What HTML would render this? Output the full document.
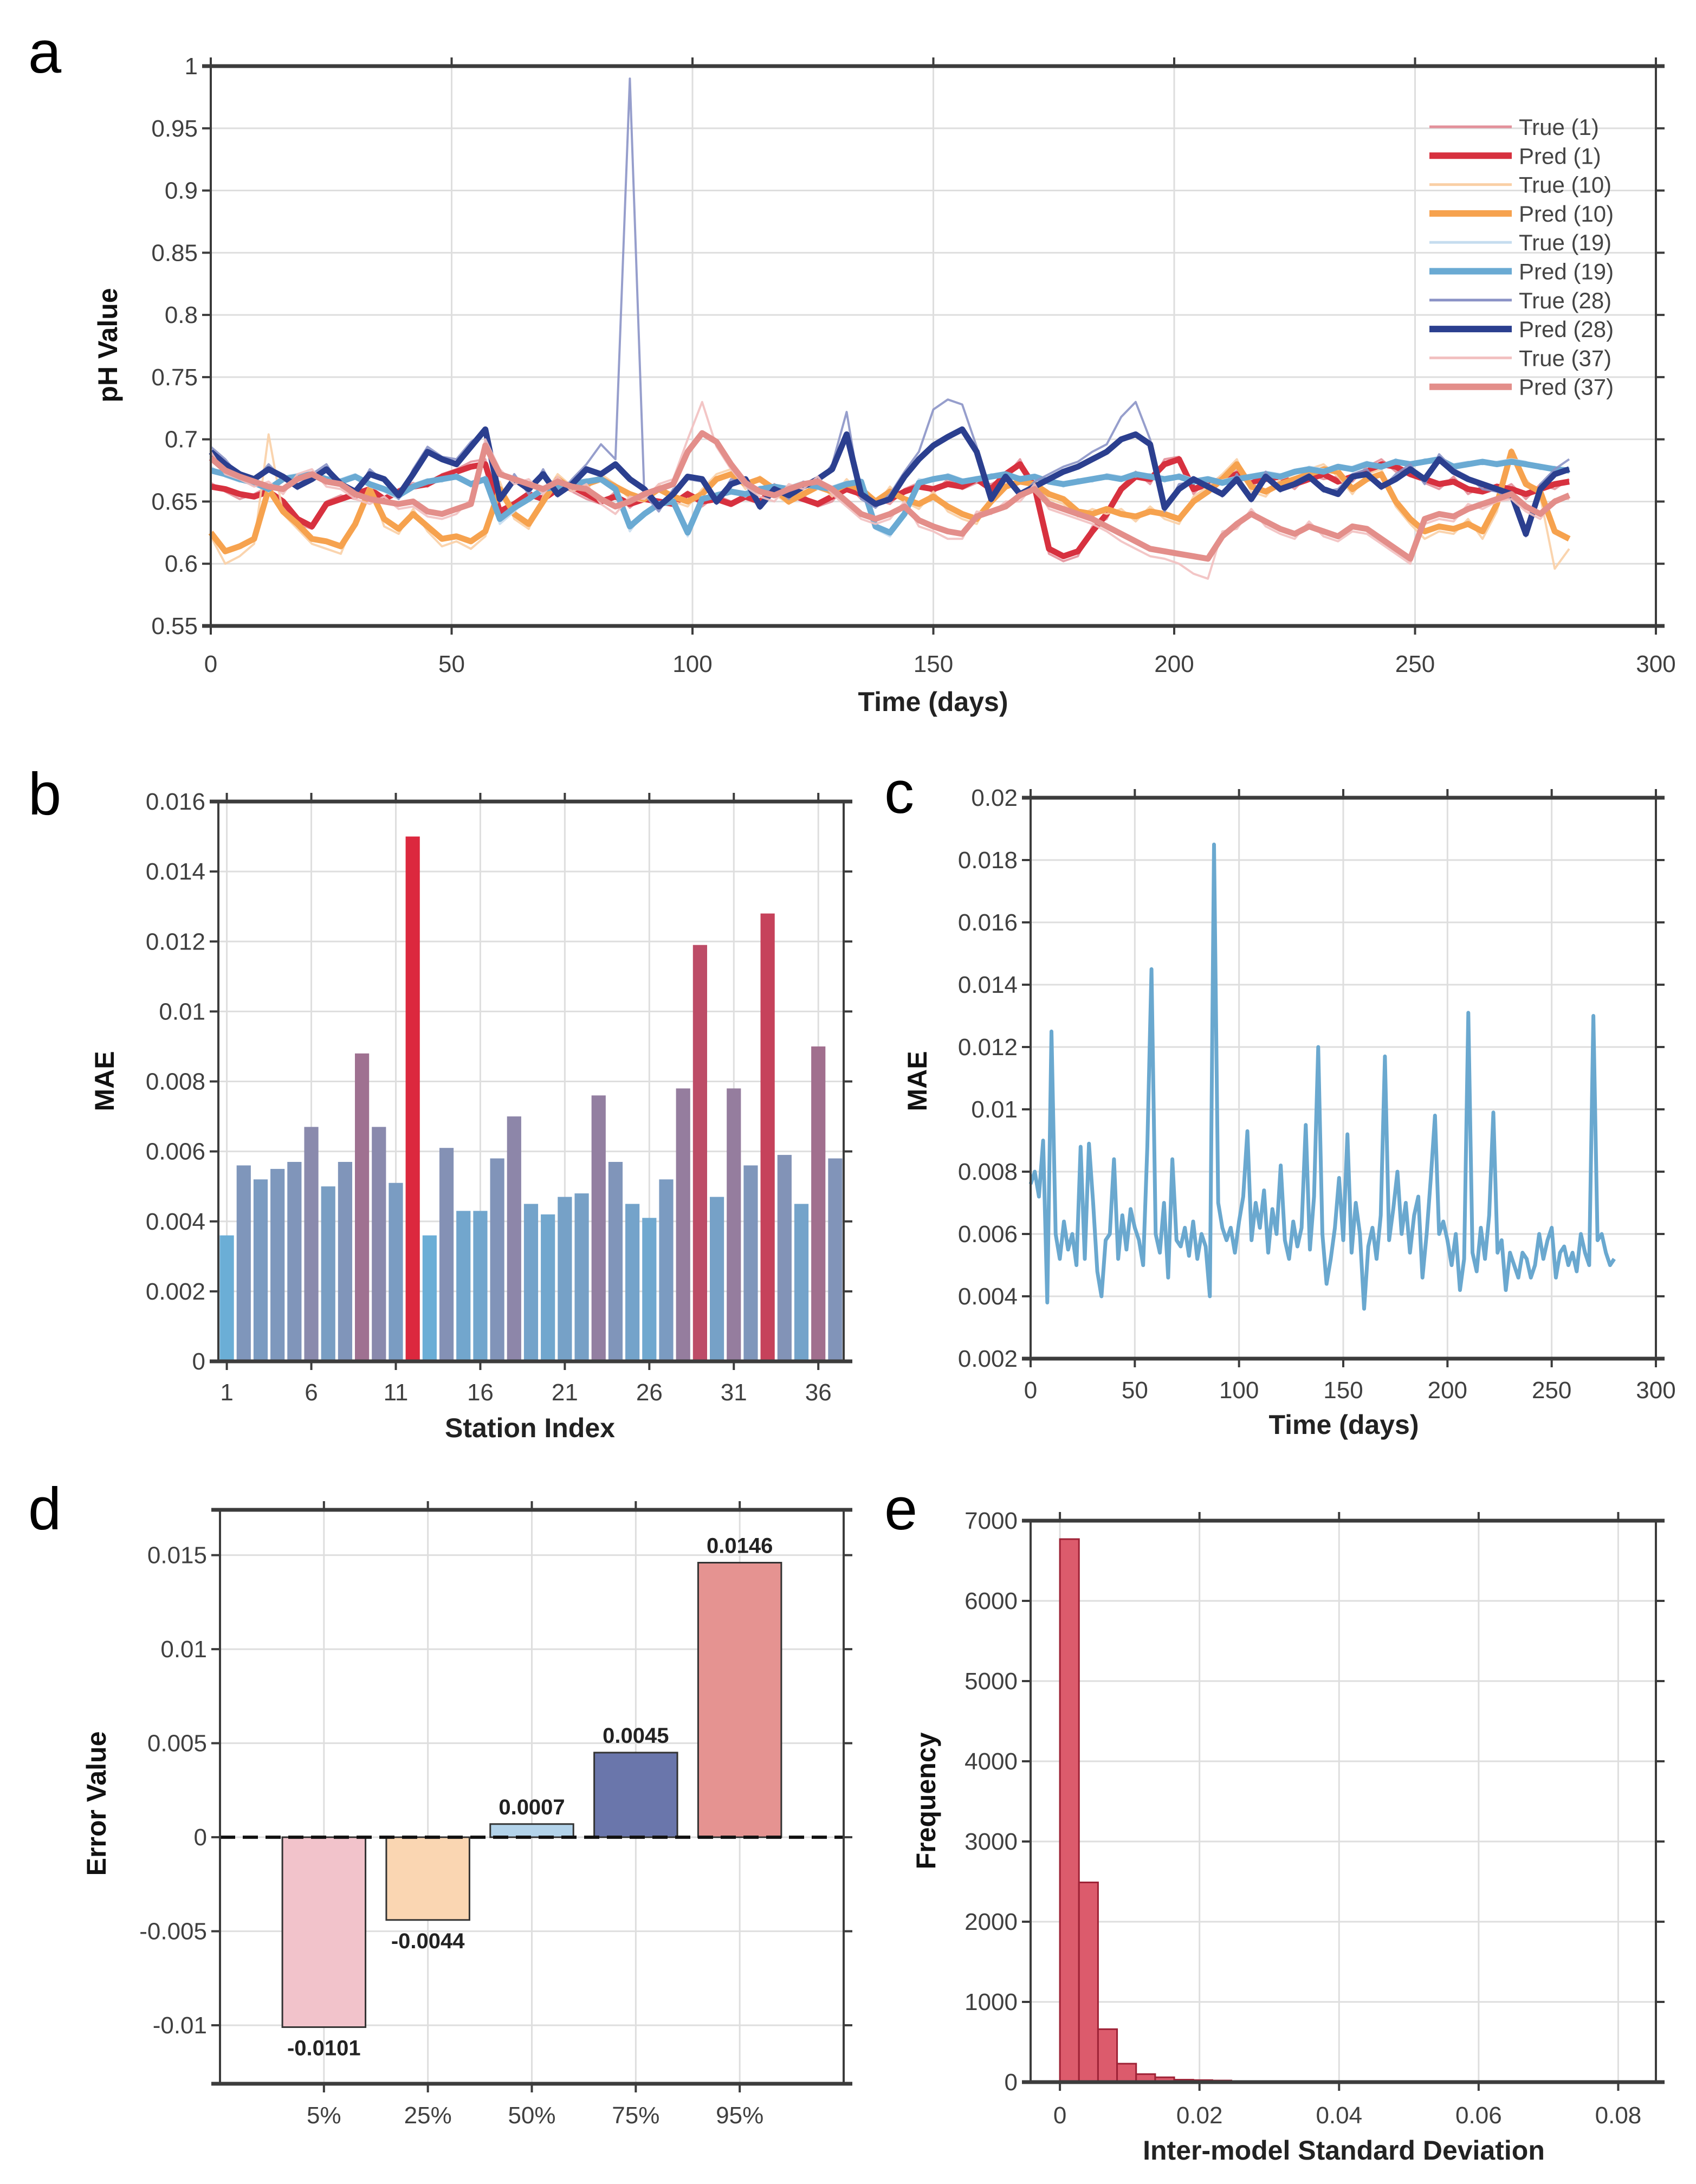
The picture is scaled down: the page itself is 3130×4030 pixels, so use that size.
<!DOCTYPE html>
<html><head><meta charset="utf-8">
<style>
html,body{margin:0;padding:0;background:#fff;}
svg{display:block;}
text{font-family:"Liberation Sans",Arial,sans-serif;}
</style></head>
<body>
<svg id="fig" xmlns="http://www.w3.org/2000/svg" width="3130" height="4030" viewBox="0 0 3130 4030"></svg>
<script>
// ---------- Panel a data (days 0..282 step 3) ----------
const aDays = Array.from({length:95},(_,i)=>i*3);
const true1 = [.665,.658,.652,.656,.662,.646,.632,.628,.650,.655, .652,.662,.650,.660,.665,.662,.672,.676,.682,.684, .640,.650,.652,.655,.664,.658,.652,.648,.658,.645, .655,.648,.650,.658,.646,.655,.650,.652,.648,.664, .654,.655,.646,.650,.664,.652,.652,.648,.660,.665, .657,.668,.660,.665,.664,.670,.684,.660,.608,.602, .606,.630,.636,.662,.674,.664,.684,.686,.656,.668, .664,.675,.662,.670,.668,.660,.672,.668,.670,.666, .678,.684,.674,.676,.665,.660,.670,.656,.662,.658, .664,.652,.664,.660,.668];
const pred1 = [.662,.660,.656,.654,.658,.650,.636,.630,.648,.652, .656,.660,.652,.658,.662,.664,.670,.674,.678,.680, .642,.648,.656,.652,.660,.662,.656,.650,.654,.648, .652,.650,.648,.656,.650,.652,.648,.654,.650,.660, .656,.652,.648,.654,.660,.656,.650,.652,.658,.662, .660,.664,.662,.668,.660,.672,.680,.662,.612,.606, .610,.626,.640,.660,.670,.668,.680,.684,.660,.664, .668,.672,.666,.668,.670,.664,.668,.672,.666,.670, .674,.680,.678,.672,.668,.664,.666,.660,.658,.662, .660,.656,.660,.664,.666];
const true10 = [.622,.600,.606,.616,.704,.640,.628,.616,.612,.608, .636,.664,.630,.624,.644,.626,.614,.618,.612,.622, .666,.636,.628,.654,.672,.662,.660,.672,.664,.652, .650,.664,.650,.646,.660,.672,.676,.660,.670,.656, .648,.660,.666,.654,.668,.656,.646,.662,.650,.644, .658,.642,.636,.632,.654,.666,.670,.660,.652,.648, .638,.644,.640,.644,.634,.646,.636,.632,.654,.662, .672,.684,.658,.654,.668,.672,.676,.680,.670,.656, .672,.676,.646,.632,.620,.626,.624,.636,.620,.642, .692,.668,.654,.596,.612];
const pred10 = [.625,.610,.614,.620,.660,.642,.632,.620,.618,.614, .632,.660,.636,.628,.640,.630,.620,.622,.618,.626, .660,.640,.632,.650,.668,.660,.664,.668,.662,.656, .652,.660,.654,.650,.656,.668,.672,.664,.668,.660, .650,.656,.662,.658,.664,.660,.650,.658,.652,.648, .654,.646,.640,.636,.650,.662,.666,.664,.656,.652, .642,.640,.644,.640,.638,.642,.640,.636,.650,.658, .668,.680,.662,.658,.664,.668,.672,.676,.674,.660, .668,.672,.650,.636,.626,.630,.628,.632,.626,.648, .690,.664,.658,.626,.620];
const true19 = [.678,.670,.666,.668,.658,.670,.672,.670,.666,.668, .672,.662,.658,.652,.664,.668,.666,.672,.662,.670, .632,.642,.654,.662,.660,.666,.668,.666,.658,.626, .642,.646,.652,.622,.654,.653,.660,.654,.662,.660, .662,.666,.660,.662,.666,.664,.628,.622,.642,.668, .666,.672,.668,.666,.672,.670,.670,.668,.668,.662, .668,.666,.672,.670,.670,.672,.666,.672,.668,.666, .667,.670,.668,.674,.672,.672,.678,.676,.676,.678, .682,.676,.684,.678,.684,.682,.680,.682,.680,.682, .684,.682,.676,.678,.673];
const pred19 = [.675,.672,.668,.665,.660,.668,.670,.672,.668,.666, .670,.664,.660,.655,.662,.666,.668,.670,.664,.668, .636,.645,.652,.660,.662,.664,.666,.668,.660,.630, .640,.648,.650,.625,.652,.655,.658,.656,.660,.662, .660,.664,.662,.660,.664,.666,.630,.625,.640,.665, .668,.670,.666,.668,.670,.672,.668,.670,.666,.664, .666,.668,.670,.668,.672,.670,.668,.670,.666,.668, .665,.668,.670,.672,.670,.674,.676,.674,.678,.676, .680,.678,.682,.680,.682,.684,.678,.680,.682,.680, .682,.680,.678,.676,.675];
const true28 = [.694,.684,.670,.666,.680,.668,.660,.672,.680,.662, .655,.676,.666,.652,.676,.694,.686,.684,.698,.706, .650,.672,.656,.676,.654,.668,.680,.696,.684,.990, .656,.642,.660,.668,.666,.648,.668,.664,.644,.662, .652,.666,.664,.680,.722,.652,.645,.656,.674,.690, .724,.732,.728,.694,.650,.672,.654,.666,.672,.678, .682,.690,.696,.718,.730,.700,.642,.664,.666,.664, .654,.672,.650,.674,.658,.666,.672,.658,.660,.672, .676,.660,.672,.680,.664,.688,.676,.670,.660,.658, .652,.622,.664,.676,.684];
const pred28 = [.690,.680,.672,.668,.676,.670,.662,.668,.676,.664, .658,.672,.668,.655,.672,.690,.684,.680,.694,.708, .652,.668,.660,.672,.656,.664,.676,.672,.680,.668, .660,.646,.656,.670,.668,.650,.664,.668,.646,.660, .655,.662,.668,.676,.704,.656,.648,.652,.670,.684, .695,.702,.708,.690,.652,.670,.656,.662,.668,.674, .678,.684,.690,.700,.704,.696,.645,.660,.668,.662, .656,.668,.652,.670,.660,.664,.670,.660,.656,.670, .672,.662,.668,.676,.668,.684,.674,.668,.664,.660, .656,.624,.660,.672,.676];
const true37 = [.690,.672,.668,.662,.666,.656,.672,.676,.662,.660, .652,.648,.654,.644,.646,.638,.636,.640,.652,.700, .676,.664,.668,.656,.670,.658,.664,.648,.640,.654, .652,.664,.668,.700,.730,.694,.676,.662,.654,.650, .664,.660,.670,.656,.646,.636,.632,.636,.650,.630, .626,.620,.620,.642,.640,.650,.650,.664,.644,.640, .636,.632,.626,.618,.612,.606,.604,.600,.592,.588, .626,.628,.644,.630,.624,.620,.634,.622,.618,.626, .624,.616,.608,.600,.632,.636,.634,.648,.644,.650, .652,.642,.636,.652,.652];
const pred37 = [.685,.675,.670,.666,.662,.660,.668,.672,.666,.664, .656,.652,.650,.648,.650,.642,.640,.644,.648,.695, .672,.668,.664,.660,.666,.662,.660,.652,.646,.650, .656,.660,.664,.690,.705,.698,.680,.665,.658,.655, .660,.664,.666,.660,.650,.640,.636,.640,.646,.635, .630,.626,.624,.638,.642,.646,.655,.660,.648,.644, .640,.636,.630,.624,.618,.612,.610,.608,.606,.604, .622,.632,.640,.634,.628,.624,.630,.626,.622,.630, .628,.620,.612,.604,.636,.640,.638,.644,.648,.652, .656,.646,.640,.650,.655];
const aLegendLabels = ["True (1)","Pred (1)","True (10)","Pred (10)","True (19)","Pred (19)","True (28)","Pred (28)","True (37)","Pred (37)"];
const aXTicks = [0,50,100,150,200,250,300];
const aYTicks = [0.55,0.6,0.65,0.7,0.75,0.8,0.85,0.9,0.95,1];
const aYTickLabels = ["0.55","0.6","0.65","0.7","0.75","0.8","0.85","0.9","0.95","1"];

// ---------- Panel b data ----------
const bStations = Array.from({length:37},(_,i)=>i+1);
const bMAE = [0.0036,0.0056,0.0052,0.0055,0.0057,0.0067,0.0050,0.0057,0.0088,0.0067,0.0051,0.0150,0.0036,0.0061,0.0043,0.0043,0.0058,0.0070,0.0045,0.0042,0.0047,0.0048,0.0076,0.0057,0.0045,0.0041,0.0052,0.0078,0.0119,0.0047,0.0078,0.0056,0.0128,0.0059,0.0045,0.0090,0.0058];
const bXTicks = [1,6,11,16,21,26,31,36];
const bYTicks = [0,0.002,0.004,0.006,0.008,0.01,0.012,0.014,0.016];
const bYTickLabels = ["0","0.002","0.004","0.006","0.008","0.01","0.012","0.014","0.016"];

// ---------- Panel c data (days 0..280 step 2) ----------
const cDays = Array.from({length:141},(_,i)=>i*2);
const cMAE = [.0076,.0080,.0072,.0090,.0038,.0125,.0060,.0052,.0064,.0055, .0060,.0050,.0088,.0052,.0089,.0070,.0048,.0040,.0058,.0060, .0084,.0052,.0066,.0055,.0068,.0062,.0058,.0050,.0088,.0145, .0060,.0054,.0070,.0046,.0084,.0058,.0056,.0062,.0053,.0064, .0052,.0060,.0056,.0040,.0185,.0070,.0062,.0058,.0062,.0054, .0064,.0072,.0093,.0058,.0070,.0062,.0074,.0054,.0068,.0060, .0082,.0058,.0052,.0064,.0056,.0062,.0095,.0055,.0072,.0120, .0060,.0044,.0052,.0062,.0078,.0058,.0092,.0054,.0070,.0060, .0036,.0056,.0062,.0052,.0066,.0117,.0058,.0068,.0080,.0060, .0070,.0054,.0066,.0072,.0046,.0060,.0078,.0098,.0060,.0064, .0058,.0050,.0060,.0042,.0052,.0131,.0054,.0048,.0062,.0052, .0066,.0099,.0054,.0058,.0042,.0054,.0050,.0046,.0054,.0052, .0046,.0050,.0060,.0052,.0058,.0062,.0046,.0054,.0056,.0050, .0054,.0048,.0060,.0054,.0050,.0130,.0058,.0060,.0054,.0050, .0052];
const cXTicks = [0,50,100,150,200,250,300];
const cYTicks = [0.002,0.004,0.006,0.008,0.01,0.012,0.014,0.016,0.018,0.02];
const cYTickLabels = ["0.002","0.004","0.006","0.008","0.01","0.012","0.014","0.016","0.018","0.02"];

// ---------- Panel d data ----------
const dCategories = ["5%","25%","50%","75%","95%"];
const dValues = [-0.0101,-0.0044,0.0007,0.0045,0.0146];
const dValueLabels = ["-0.0101","-0.0044","0.0007","0.0045","0.0146"];
const dColors = ["#f2c3cb","#fad6b2","#b3d3ea","#6a76ab","#e59391"];
const dYTicks = [-0.01,-0.005,0,0.005,0.01,0.015];
const dYTickLabels = ["-0.01","-0.005","0","0.005","0.01","0.015"];

// ---------- Panel e data ----------
const eBinWidth = 0.00273;
const eCounts = [6770,2490,660,230,100,60,30,25,20,12,8,6,5,4,3,3,2,2,2,1,1,1,1,1,1,1,0,0,1,1];
const eXTicks = [0,0.02,0.04,0.06,0.08];
const eXTickLabels = ["0","0.02","0.04","0.06","0.08"];
const eYTicks = [0,1000,2000,3000,4000,5000,6000,7000];

// ---------- helpers ----------
const NS = "http://www.w3.org/2000/svg";
const svg = document.getElementById('fig');
function mk(tag, attrs, parent){
  const e = document.createElementNS(NS, tag);
  for (const k in attrs) e.setAttribute(k, attrs[k]);
  (parent || svg).appendChild(e);
  return e;
}
function txt(str, x, y, size, opts, parent){
  const t = mk('text', Object.assign({x:x, y:y, 'font-size':size, fill:'#404040'}, opts||{}), parent);
  t.textContent = str;
  return t;
}
function lin(d0,d1,p0,p1){ return v => p0 + (v-d0)/(d1-d0)*(p1-p0); }

function axes(cfg){
  const g = mk('g', {});
  
  
  const sx = lin(cfg.xd[0], cfg.xd[1], cfg.L, cfg.R);
  const sy = lin(cfg.yd[0], cfg.yd[1], cfg.B, cfg.T);
  const grid = mk('g', {stroke:'#dedede','stroke-width':3}, g);
  
  
  if (cfg.xgrid !== false) cfg.xt.forEach(v => mk('line',{x1:sx(v),x2:sx(v),y1:cfg.T,y2:cfg.B},grid));
  cfg.yt.forEach(v => mk('line',{x1:cfg.L,x2:cfg.R,y1:sy(v),y2:sy(v)},grid));
  const plot = mk('g', {}, g);
  
  
  const frame = mk('g', {stroke:'#3c3c3c','stroke-width':4,fill:'none'}, g);
  
  
  cfg.frame = frame;
  // x ticks
  const xtg = mk('g', {}, g);
  
  
  cfg.xt.forEach((v,i) => {
    mk('line',{x1:sx(v),x2:sx(v),y1:cfg.B,y2:cfg.B+16,stroke:'#3c3c3c','stroke-width':4},frame);
    mk('line',{x1:sx(v),x2:sx(v),y1:cfg.T,y2:cfg.T-16,stroke:'#3c3c3c','stroke-width':4},frame);
    txt(cfg.xl ? cfg.xl[i] : String(v), sx(v), cfg.xly, 44, {'text-anchor':'middle'}, xtg);
  });
  const ytg = mk('g', {}, g);
  
  
  cfg.yt.forEach((v,i) => {
    mk('line',{x1:cfg.L-16,x2:cfg.L,y1:sy(v),y2:sy(v),stroke:'#3c3c3c','stroke-width':4},frame);
    mk('line',{x1:cfg.R,x2:cfg.R+16,y1:sy(v),y2:sy(v),stroke:'#3c3c3c','stroke-width':4},frame);
    txt(cfg.yl ? cfg.yl[i] : String(v), cfg.L-24, sy(v)+15, 44, {'text-anchor':'end'}, ytg);
  });
  mk('rect',{x:cfg.L,y:cfg.T,width:cfg.R-cfg.L,height:cfg.B-cfg.T},frame);
  mk('line',{x1:cfg.L-16,x2:cfg.R+16,y1:cfg.T,y2:cfg.T,'stroke-width':7},frame);
  mk('line',{x1:cfg.L-16,x2:cfg.R+16,y1:cfg.B,y2:cfg.B,'stroke-width':7},frame);
  // titles
  const xt = txt(cfg.xtitle, cfg.xtx, cfg.xty, 50, {'text-anchor':'middle','font-weight':'bold',fill:'#222'}, g);
  
  
  const yt = txt(cfg.ytitle, 0, 0, 50, {'text-anchor':'middle','font-weight':'bold',fill:'#111',transform:`translate(${cfg.ytx},${cfg.yty}) rotate(-90)`}, g);
  
  
  const pl = txt(cfg.letter, cfg.lx, cfg.ly, 110, {fill:'#000'}, g);
  
  
  // keep frame on top
  g.appendChild(frame);
  return {sx, sy, plot, g};
}
function pathOf(xs, ys, sx, sy){
  return xs.map((x,i)=>(i?'L':'M')+sx(x).toFixed(1)+','+sy(ys[i]).toFixed(1)).join('');
}

// ---------- Panel a ----------
const A = axes({name:'panel-a', L:389, R:3056, T:122, B:1155, xd:[0,300], yd:[0.55,1],
  xt:aXTicks, yt:aYTicks, yl:aYTickLabels, xly:1240, xtitle:'Time (days)', xtx:1722, xty:1312,
  ytitle:'pH Value', ytx:216, yty:637, letter:'a', lx:52, ly:134});
const aSeries = [
  {name:'true-1', ys:true1, c:'#e3909a', w:4, o:0.9},
  {name:'pred-1', ys:pred1, c:'#d7313f', w:11, o:1},
  {name:'true-10', ys:true10, c:'#f9cfa5', w:4, o:0.9},
  {name:'pred-10', ys:pred10, c:'#f6a24e', w:11, o:1},
  {name:'true-19', ys:true19, c:'#c6ddef', w:4, o:0.9},
  {name:'pred-19', ys:pred19, c:'#6aaad3', w:11, o:1},
  {name:'true-28', ys:true28, c:'#8b93c6', w:4, o:0.9},
  {name:'pred-28', ys:pred28, c:'#2b3f8f', w:11, o:1},
  {name:'true-37', ys:true37, c:'#f2c0c0', w:4, o:0.9},
  {name:'pred-37', ys:pred37, c:'#e38e8a', w:11, o:1}
];
aSeries.forEach(s => {
  const p = mk('path',{d:pathOf(aDays, s.ys, A.sx, A.sy), fill:'none', stroke:s.c, 'stroke-width':s.w, 'stroke-opacity':s.o, 'stroke-linejoin':'round'}, A.plot);
  
  
});
const leg = mk('g', {}, A.g);


aSeries.forEach((s,i) => {
  const y = 234 + i*53.3;
  const e = mk('g', {}, leg);
  
  
  mk('line',{x1:2638,x2:2790,y1:y,y2:y,stroke:s.c,'stroke-width':s.w>5?12:5}, e);
  txt(aLegendLabels[i], 2803, y+15, 42, {fill:'#444'}, e);
});

// ---------- Panel b ----------
const B = axes({name:'panel-b', L:403, R:1557, T:1479, B:2512, xd:[0.5,37.5], yd:[0,0.016],
  xt:bXTicks, yt:bYTicks, yl:bYTickLabels, xly:2584, xtitle:'Station Index', xtx:978, xty:2652,
  ytitle:'MAE', ytx:210, yty:1995, letter:'b', lx:52, ly:1503});
const bMin = Math.min(...bMAE), bMax = Math.max(...bMAE);
bStations.forEach((st,i) => {
  const t = (bMAE[i]-bMin)/(bMax-bMin);
  const r = Math.round(107 + t*(220-107)), gg = Math.round(174 + t*(40-174)), bb = Math.round(214 + t*(62-214));
  const w = 0.84*(B.sx(1)-B.sx(0));
  const r0 = mk('rect',{x:B.sx(st)-w/2, y:B.sy(bMAE[i]), width:w, height:B.sy(0)-B.sy(bMAE[i]), fill:`rgb(${r},${gg},${bb})`}, B.plot);
  
  
});

// ---------- Panel c ----------
const C = axes({name:'panel-c', L:1902, R:3056, T:1472, B:2507, xd:[0,300], yd:[0.002,0.02],
  xt:cXTicks, yt:cYTicks, yl:cYTickLabels, xly:2580, xtitle:'Time (days)', xtx:2480, xty:2646,
  ytitle:'MAE', ytx:1710, yty:1995, letter:'c', lx:1632, ly:1500});
const cl = mk('path',{d:pathOf(cDays, cMAE, C.sx, C.sy), fill:'none', stroke:'#6aa8cf','stroke-width':7,'stroke-linejoin':'round'}, C.plot);



// ---------- Panel d ----------
const dCatIdx = [1,2,3,4,5];
const D = axes({name:'panel-d', L:406, R:1557, T:2786, B:3845, xd:[0,6], yd:[-0.01311,0.01741],
  xt:dCatIdx, xl:dCategories, yt:dYTicks, yl:dYTickLabels, xly:3918, xtitle:'', xtx:980, xty:3990,
  ytitle:'Error Value', ytx:195, yty:3328, letter:'d', lx:52, ly:2822});
dCatIdx.forEach((k,i) => {
  const w = 0.8*(D.sx(1)-D.sx(0));
  const v = dValues[i];
  const y1 = Math.min(D.sy(v), D.sy(0)), h = Math.abs(D.sy(v)-D.sy(0));
  const r = mk('rect',{x:D.sx(k)-w/2, y:y1, width:w, height:h, fill:dColors[i], stroke:'#333','stroke-width':3}, D.plot);
  
  
  const ly = v >= 0 ? D.sy(v) - 18 : D.sy(v) + 52;
  const t = txt(dValueLabels[i], D.sx(k), ly, 40, {'text-anchor':'middle','font-weight':'bold',fill:'#222'}, D.plot);
  
  
});
const zl = mk('line',{x1:406,x2:1557,y1:D.sy(0),y2:D.sy(0),stroke:'#111','stroke-width':6,'stroke-dasharray':'28,14'}, D.plot);



// ---------- Panel e ----------
const E = axes({name:'panel-e', L:1902, R:3056, T:2806, B:3842, xd:[-0.0042,0.0854], yd:[0,7000],
  xt:eXTicks, xl:eXTickLabels, yt:eYTicks, xly:3918, xtitle:'Inter-model Standard Deviation', xtx:2480, xty:3985,
  ytitle:'Frequency', ytx:1726, yty:3323, letter:'e', lx:1632, ly:2822});
eCounts.forEach((c,i) => {
  const x0 = E.sx(i*eBinWidth), x1 = E.sx((i+1)*eBinWidth);
  const r = mk('rect',{x:x0, y:E.sy(c), width:x1-x0, height:E.sy(0)-E.sy(c)+0.01, fill:'#dc5b6c', stroke:'#9e2236','stroke-width':3}, E.plot);
  
  
});
</script>
</body></html>
